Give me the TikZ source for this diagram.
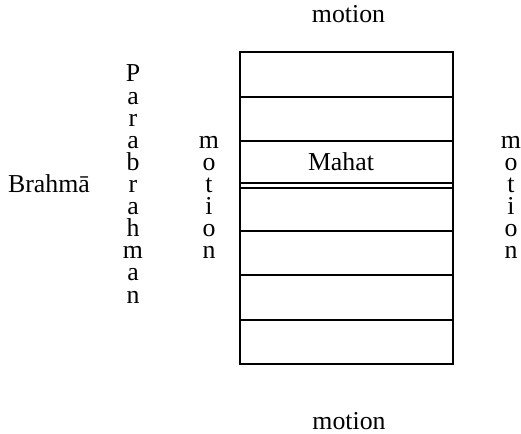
\documentclass[tikz,border=0pt]{standalone}
\usepackage{fontspec}
\setmainfont{Liberation Serif}
\newcommand{\vstk}[1]{\vtop{\baselineskip=22.1pt\lineskiplimit=-20pt\lineskip=0pt\halign{\hfil##\hfil\cr#1}}}
\begin{document}
\begin{tikzpicture}[x=1pt,y=-1pt,
  lbl/.style={inner sep=0pt,anchor=base,font=\fontsize{25.8}{22.1}\selectfont},
  rule/.style={line width=1.2pt}]
\useasboundingbox (0,0) rectangle (521,433);
\draw[rule] (240,52) rectangle (453,364);
\foreach \yy in {97,141,183,188,231,275,320}
  \draw[rule] (240,\yy) -- (453,\yy);
\node[lbl] (mahat) at (341,170) {Mahat};
\node[lbl] (top) at (348.5,23) {motion};
\node[lbl] (bottom) at (349,429) {motion};
\node[lbl] (brahma) at (49,192) {Brahmā};
\node[lbl] (para) at (133,82) {\vstk{P\cr a\cr r\cr a\cr b\cr r\cr a\cr h\cr m\cr a\cr n\cr}};
\node[lbl] (lmot) at (209,148) {\vstk{m\cr o\cr t\cr i\cr o\cr n\cr}};
\node[lbl] (rmot) at (511,148) {\vstk{m\cr o\cr t\cr i\cr o\cr n\cr}};
\end{tikzpicture}
\end{document}
